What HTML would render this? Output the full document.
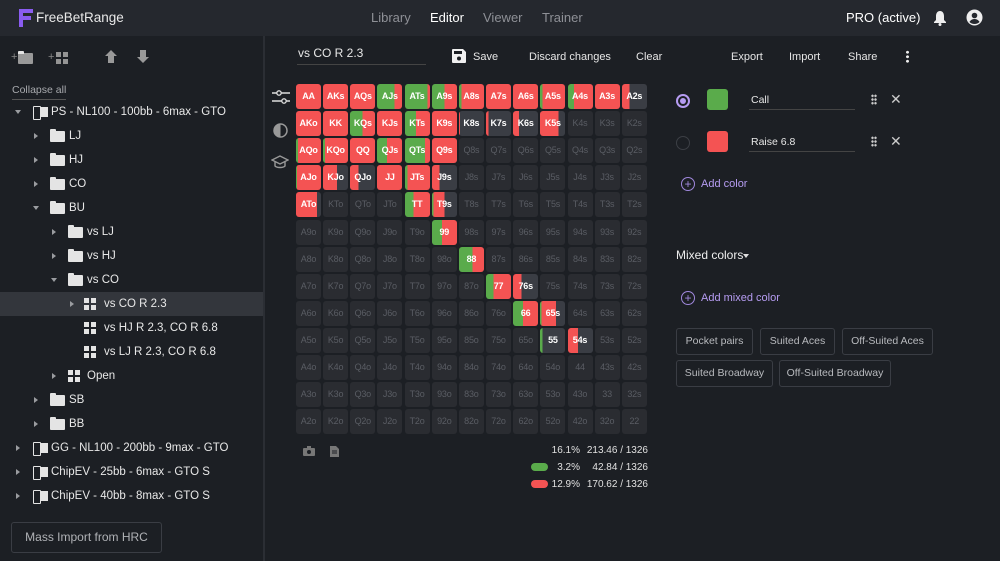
<!DOCTYPE html>
<html><head><meta charset="utf-8">
<style>
*{box-sizing:border-box;margin:0;padding:0}
body{width:1000px;height:561px;overflow:hidden;background:#1c1f24;font-family:"Liberation Sans",sans-serif;color:#e6e6e6;position:relative;font-size:12px}
.a{position:absolute;white-space:nowrap}
#top{left:0;top:0;width:1000px;height:36px;background:#25282e}
.nav{top:10px;font-size:13px;color:#8e9096}
.tr{height:24px;line-height:24px;font-size:11.5px;color:#e8e8e8}
.arrow{width:0;height:0;border-left:4px solid #9a9ca0;border-top:3px solid transparent;border-bottom:3px solid transparent}
.arrowd{width:0;height:0;border-top:4px solid #9a9ca0;border-left:3px solid transparent;border-right:3px solid transparent}
.fold{width:15px;height:11px;background:#e4e4e4;border-radius:1px}
.fold:before{content:"";position:absolute;left:0;top:-2px;width:6px;height:3px;background:#e4e4e4;border-radius:1px 1px 0 0}
.grid4{width:12px;height:12px;background:
linear-gradient(#e4e4e4,#e4e4e4) 0 0/5px 5px no-repeat,
linear-gradient(#e4e4e4,#e4e4e4) 7px 0/5px 5px no-repeat,
linear-gradient(#e4e4e4,#e4e4e4) 0 7px/5px 5px no-repeat,
linear-gradient(#e4e4e4,#e4e4e4) 7px 7px/5px 5px no-repeat}
.bk{width:15px;height:12px}
.bk:before{content:"";position:absolute;left:0;top:0;width:6px;height:12px;border:1.5px solid #e4e4e4;border-radius:1px}
.bk:after{content:"";position:absolute;left:8px;top:1px;width:7px;height:10px;background:#e4e4e4}
.cell{position:absolute;width:25px;height:25px;border-radius:3px;overflow:hidden;font-size:9px;text-align:center;line-height:25px;font-weight:bold;letter-spacing:-0.2px}
.btn{position:absolute;height:27px;line-height:25px;border:1px solid #3a3d44;border-radius:3px;color:#b8babe;font-size:10.5px;text-align:center}
.st{font-size:10px;color:#e0e0e0}
</style></head><body>
<div class="a" id="top"></div>
<svg class="a" style="left:17px;top:8px" width="18" height="20" viewBox="0 0 18 20"><path d="M2 1h14v4H6v3h8v4H6v7H2z" fill="#8a5cf0"/></svg>
<div class="a" style="left:36px;top:10px;font-size:13.5px;color:#e8e8e8">FreeBetRange</div>
<div class="a nav" style="left:371px">Library</div>
<div class="a nav" style="left:430px;color:#fff">Editor</div>
<div class="a nav" style="left:483px">Viewer</div>
<div class="a nav" style="left:542px">Trainer</div>
<div class="a" style="left:846px;top:10px;font-size:13px;color:#fff">PRO (active)</div>
<svg class="a" style="left:933px;top:10px" width="14" height="16" viewBox="0 0 14 16"><path d="M7 1C4 1 3 4 3 6v4L1 12v1h12v-1l-2-2V6c0-2-1-5-4-5z" fill="#eee"/><circle cx="7" cy="14.5" r="1.5" fill="#eee"/></svg>
<svg class="a" style="left:966px;top:9px" width="17" height="17" viewBox="0 0 17 17"><circle cx="8.5" cy="8.5" r="8" fill="#eee"/><circle cx="8.5" cy="6.5" r="2.8" fill="#25282e"/><path d="M3.5 13c1-2 3-3 5-3s4 1 5 3c-1.3 1.3-3 2-5 2s-3.700-.7-5-2z" fill="#25282e"/></svg>

<div class="a" style="left:263px;top:36px;width:2px;height:525px;background:#2b2e34"></div>
<div class="a" style="left:11px;top:51px;font-size:11px;color:#888">+</div>
<div class="a fold" style="left:18px;top:53px;background:#999"></div>
<div class="a" style="left:48px;top:51px;font-size:11px;color:#888">+</div>
<div class="a grid4" style="left:56px;top:52px;filter:brightness(.65)"></div>
<svg class="a" style="left:105px;top:50px" width="12" height="13" viewBox="0 0 12 13"><path d="M6 0l6 6H9v7H3V6H0z" fill="#999"/></svg>
<svg class="a" style="left:137px;top:50px" width="12" height="13" viewBox="0 0 12 13"><path d="M6 13l6-6H9V0H3v7H0z" fill="#999"/></svg>
<div class="a" style="left:12px;top:84px;font-size:10.5px;color:#a8aaae;border-bottom:1px solid #555;padding-bottom:3px">Collapse all</div>

<div class="a" style="left:0;top:292px;width:263px;height:24px;background:#33363c"></div>
<div id="tree"></div>

<div class="btn" style="left:11px;top:522px;width:151px;height:31px;line-height:29px;font-size:12px;color:#b0b2b6">Mass Import from HRC</div>

<div class="a" style="left:298px;top:46px;font-size:12px;color:#e8e8e8">vs CO R 2.3</div>
<div class="a" style="left:297px;top:64px;width:129px;height:1px;background:#444"></div>
<svg class="a" style="left:452px;top:49px" width="14" height="14" viewBox="0 0 14 14"><path d="M0 1a1 1 0 0 1 1-1h10l3 3v10a1 1 0 0 1-1 1H1a1 1 0 0 1-1-1z" fill="#f0f0f0"/><rect x="2" y="2" width="8" height="3" fill="#1c1f24"/><circle cx="7" cy="9.5" r="2" fill="#1c1f24"/></svg>
<div class="a" style="left:473px;top:51px;font-size:11px">Save</div>
<div class="a" style="left:529px;top:51px;font-size:11px">Discard changes</div>
<div class="a" style="left:636px;top:51px;font-size:11px">Clear</div>
<div class="a" style="left:731px;top:51px;font-size:11px">Export</div>
<div class="a" style="left:789px;top:51px;font-size:11px">Import</div>
<div class="a" style="left:848px;top:51px;font-size:11px">Share</div>
<div class="a" style="left:906px;top:50px;width:3px;height:13px;background:radial-gradient(circle,#eee 1.3px,transparent 1.6px) 0 0/3px 4.5px"></div>

<svg class="a" style="left:272px;top:90px" width="18" height="14" viewBox="0 0 18 14"><path d="M0 3h18M0 11h18" stroke="#ddd" stroke-width="1.5"/><circle cx="7" cy="3" r="2.2" fill="#1c1f24" stroke="#ddd" stroke-width="1.3"/><circle cx="12" cy="11" r="2.2" fill="#1c1f24" stroke="#ddd" stroke-width="1.3"/></svg>
<svg class="a" style="left:273px;top:123px" width="15" height="15" viewBox="0 0 15 15"><circle cx="7.5" cy="7.5" r="6.5" fill="none" stroke="#999" stroke-width="1.5"/><path d="M7.5 1a6.5 6.5 0 0 0 0 13z" fill="#999"/></svg>
<svg class="a" style="left:271px;top:155px" width="18" height="15" viewBox="0 0 18 15"><path d="M9 1L1 5l8 4 8-4z M4 7v4c2 2 8 2 10 0V7" fill="none" stroke="#999" stroke-width="1.4"/></svg>

<div id="grid"></div>

<svg class="a" style="left:303px;top:446px" width="12" height="10" viewBox="0 0 12 10"><rect x="0" y="2" width="12" height="8" rx="1" fill="#777"/><rect x="4" y="0" width="4" height="3" fill="#777"/><circle cx="6" cy="6" r="2" fill="#1c1f24"/></svg>
<svg class="a" style="left:330px;top:446px" width="9" height="11" viewBox="0 0 9 11"><path d="M0 0h6l3 3v8H0z" fill="#777"/><path d="M2 5h5M2 7h5" stroke="#1c1f24"/></svg>
<div class="a st" style="right:420px;top:445px">16.1%</div>
<div class="a st" style="right:352px;top:445px">213.46 / 1326</div>
<div class="a" style="left:531px;top:463px;width:17px;height:8px;border-radius:4px;background:#5aab4b"></div>
<div class="a st" style="right:420px;top:462px">3.2%</div>
<div class="a st" style="right:352px;top:462px">42.84 / 1326</div>
<div class="a" style="left:531px;top:480px;width:17px;height:8px;border-radius:4px;background:#f45353"></div>
<div class="a st" style="right:420px;top:479px">12.9%</div>
<div class="a st" style="right:352px;top:479px">170.62 / 1326</div>

<div class="a" style="left:676px;top:94px;width:14px;height:14px;border-radius:50%;border:2px solid #b69cf2"></div>
<div class="a" style="left:680px;top:98px;width:6px;height:6px;border-radius:50%;background:#b69cf2"></div>
<div class="a" style="left:707px;top:89px;width:21px;height:21px;border-radius:3px;background:#5aab4b"></div>
<div class="a" style="left:751px;top:94px;font-size:10.5px">Call</div>
<div class="a" style="left:749px;top:109px;width:106px;height:1px;background:#444"></div>
<div class="a" style="left:871px;top:94px;width:6px;height:11px;background:radial-gradient(circle,#ccc 1.1px,transparent 1.4px) 0 0/3px 3.7px"></div>
<div class="a" style="left:890px;top:91px;font-size:14px;color:#ccc">✕</div>
<div class="a" style="left:676px;top:136px;width:14px;height:14px;border-radius:50%;border:1.5px solid #3c3f45"></div>
<div class="a" style="left:707px;top:131px;width:21px;height:21px;border-radius:3px;background:#f45353"></div>
<div class="a" style="left:751px;top:136px;font-size:10.5px">Raise 6.8</div>
<div class="a" style="left:749px;top:151px;width:106px;height:1px;background:#444"></div>
<div class="a" style="left:871px;top:136px;width:6px;height:11px;background:radial-gradient(circle,#ccc 1.1px,transparent 1.4px) 0 0/3px 3.7px"></div>
<div class="a" style="left:890px;top:133px;font-size:14px;color:#ccc">✕</div>
<div class="a" style="left:681px;top:177px;width:14px;height:14px;border-radius:50%;border:1px solid #a088dd;color:#a088dd;font-size:12px;line-height:12px;text-align:center">+</div>
<div class="a" style="left:701px;top:178px;font-size:11px;color:#b69cf2">Add color</div>
<div class="a" style="left:676px;top:248px;font-size:12px;color:#eee">Mixed colors</div>
<div class="a" style="left:743px;top:254px;border-top:4px solid #ddd;border-left:3.5px solid transparent;border-right:3.5px solid transparent"></div>
<div class="a" style="left:681px;top:291px;width:14px;height:14px;border-radius:50%;border:1px solid #a088dd;color:#a088dd;font-size:12px;line-height:12px;text-align:center">+</div>
<div class="a" style="left:701px;top:292px;font-size:11px;color:#b69cf2">Add mixed color</div>
<div class="btn" style="left:676px;top:328px;width:77px">Pocket pairs</div>
<div class="btn" style="left:760px;top:328px;width:75px">Suited Aces</div>
<div class="btn" style="left:842px;top:328px;width:91px">Off-Suited Aces</div>
<div class="btn" style="left:676px;top:360px;width:97px">Suited Broadway</div>
<div class="btn" style="left:779px;top:360px;width:112px">Off-Suited Broadway</div>

<script>
var tree=[
[0,'d','bk','PS - NL100 - 100bb - 6max - GTO'],
[1,'r','f','LJ'],[1,'r','f','HJ'],[1,'r','f','CO'],[1,'d','f','BU'],
[2,'r','f','vs LJ'],[2,'r','f','vs HJ'],[2,'d','f','vs CO'],
[3,'r','g','vs CO R 2.3'],[3,'','g','vs HJ R 2.3, CO R 6.8'],[3,'','g','vs LJ R 2.3, CO R 6.8'],
[2,'r','g','Open'],[1,'r','f','SB'],[1,'r','f','BB'],
[0,'r','bk','GG - NL100 - 200bb - 9max - GTO'],[0,'r','bk','ChipEV - 25bb - 6max - GTO S'],[0,'r','bk','ChipEV - 40bb - 8max - GTO S']];
var h='';
tree.forEach(function(t,i){
 var y=100+i*24, ax=[15,33,51,69][t[0]], ix=[33,50,68,84][t[0]], tx=[51,69,87,104][t[0]];
 if(t[1]=='r')h+='<div class="a arrow" style="left:'+(ax+1)+'px;top:'+(y+9)+'px"></div>';
 if(t[1]=='d')h+='<div class="a arrowd" style="left:'+ax+'px;top:'+(y+10)+'px"></div>';
 var cls=t[2]=='f'?'fold':t[2]=='g'?'grid4':'bk';
 h+='<div class="a '+cls+'" style="left:'+ix+'px;top:'+(y+(cls=='fold'?7:6))+'px"></div>';
 h+='<div class="a tr" style="left:'+tx+'px;top:'+y+'px">'+t[3]+'</div>';
});
document.getElementById('tree').innerHTML=h;
var R='AKQJT98765432';
var mix={AA:[0,100],AKs:[0,100],AQs:[0,100],AJs:[70,30],ATs:[90,10],A9s:[50,50],A8s:[10,90],A7s:[0,100],A6s:[0,100],A5s:[10,90],A4s:[25,75],A3s:[0,100],A2s:[0,30],
AKo:[0,100],KK:[0,100],KQs:[50,50],KJs:[0,100],KTs:[45,55],K9s:[0,100],K8s:[0,5],K7s:[0,10],K6s:[0,25],K5s:[0,75],
AQo:[8,92],KQo:[8,92],QQ:[0,100],QJs:[40,60],QTs:[80,20],Q9s:[0,100],
AJo:[5,95],KJo:[0,55],QJo:[0,35],JJ:[0,100],JTs:[10,90],J9s:[0,30],
ATo:[0,85],TT:[35,65],T9s:[5,45],'99':[40,60],'88':[55,45],'77':[30,70],'76s':[0,35],'66':[40,60],'65s':[5,60],'55':[10,0],'54s':[0,40]};
var g='';
for(var r=0;r<13;r++)for(var c=0;c<13;c++){
 var n=r==c?R[r]+R[c]:(c>r?R[r]+R[c]+'s':R[c]+R[r]+'o');
 var x=296+c*27.15,y=84+r*27.1,m=mix[n],st;
 if(m){
  var gg=m[0],rr=m[0]+m[1];
  st='background:linear-gradient(90deg,#5aab4b 0,#5aab4b '+gg+'%,#f45353 '+gg+'%,#f45353 '+rr+'%,#3a3d44 '+rr+'%);color:#fff';
 } else st='background:#2a2c31;color:#5a5d64;font-weight:normal';
 g+='<div class="cell" style="left:'+x.toFixed(1)+'px;top:'+y.toFixed(1)+'px;'+st+'">'+n+'</div>';
}
document.getElementById('grid').innerHTML=g;
</script>
</body></html>
